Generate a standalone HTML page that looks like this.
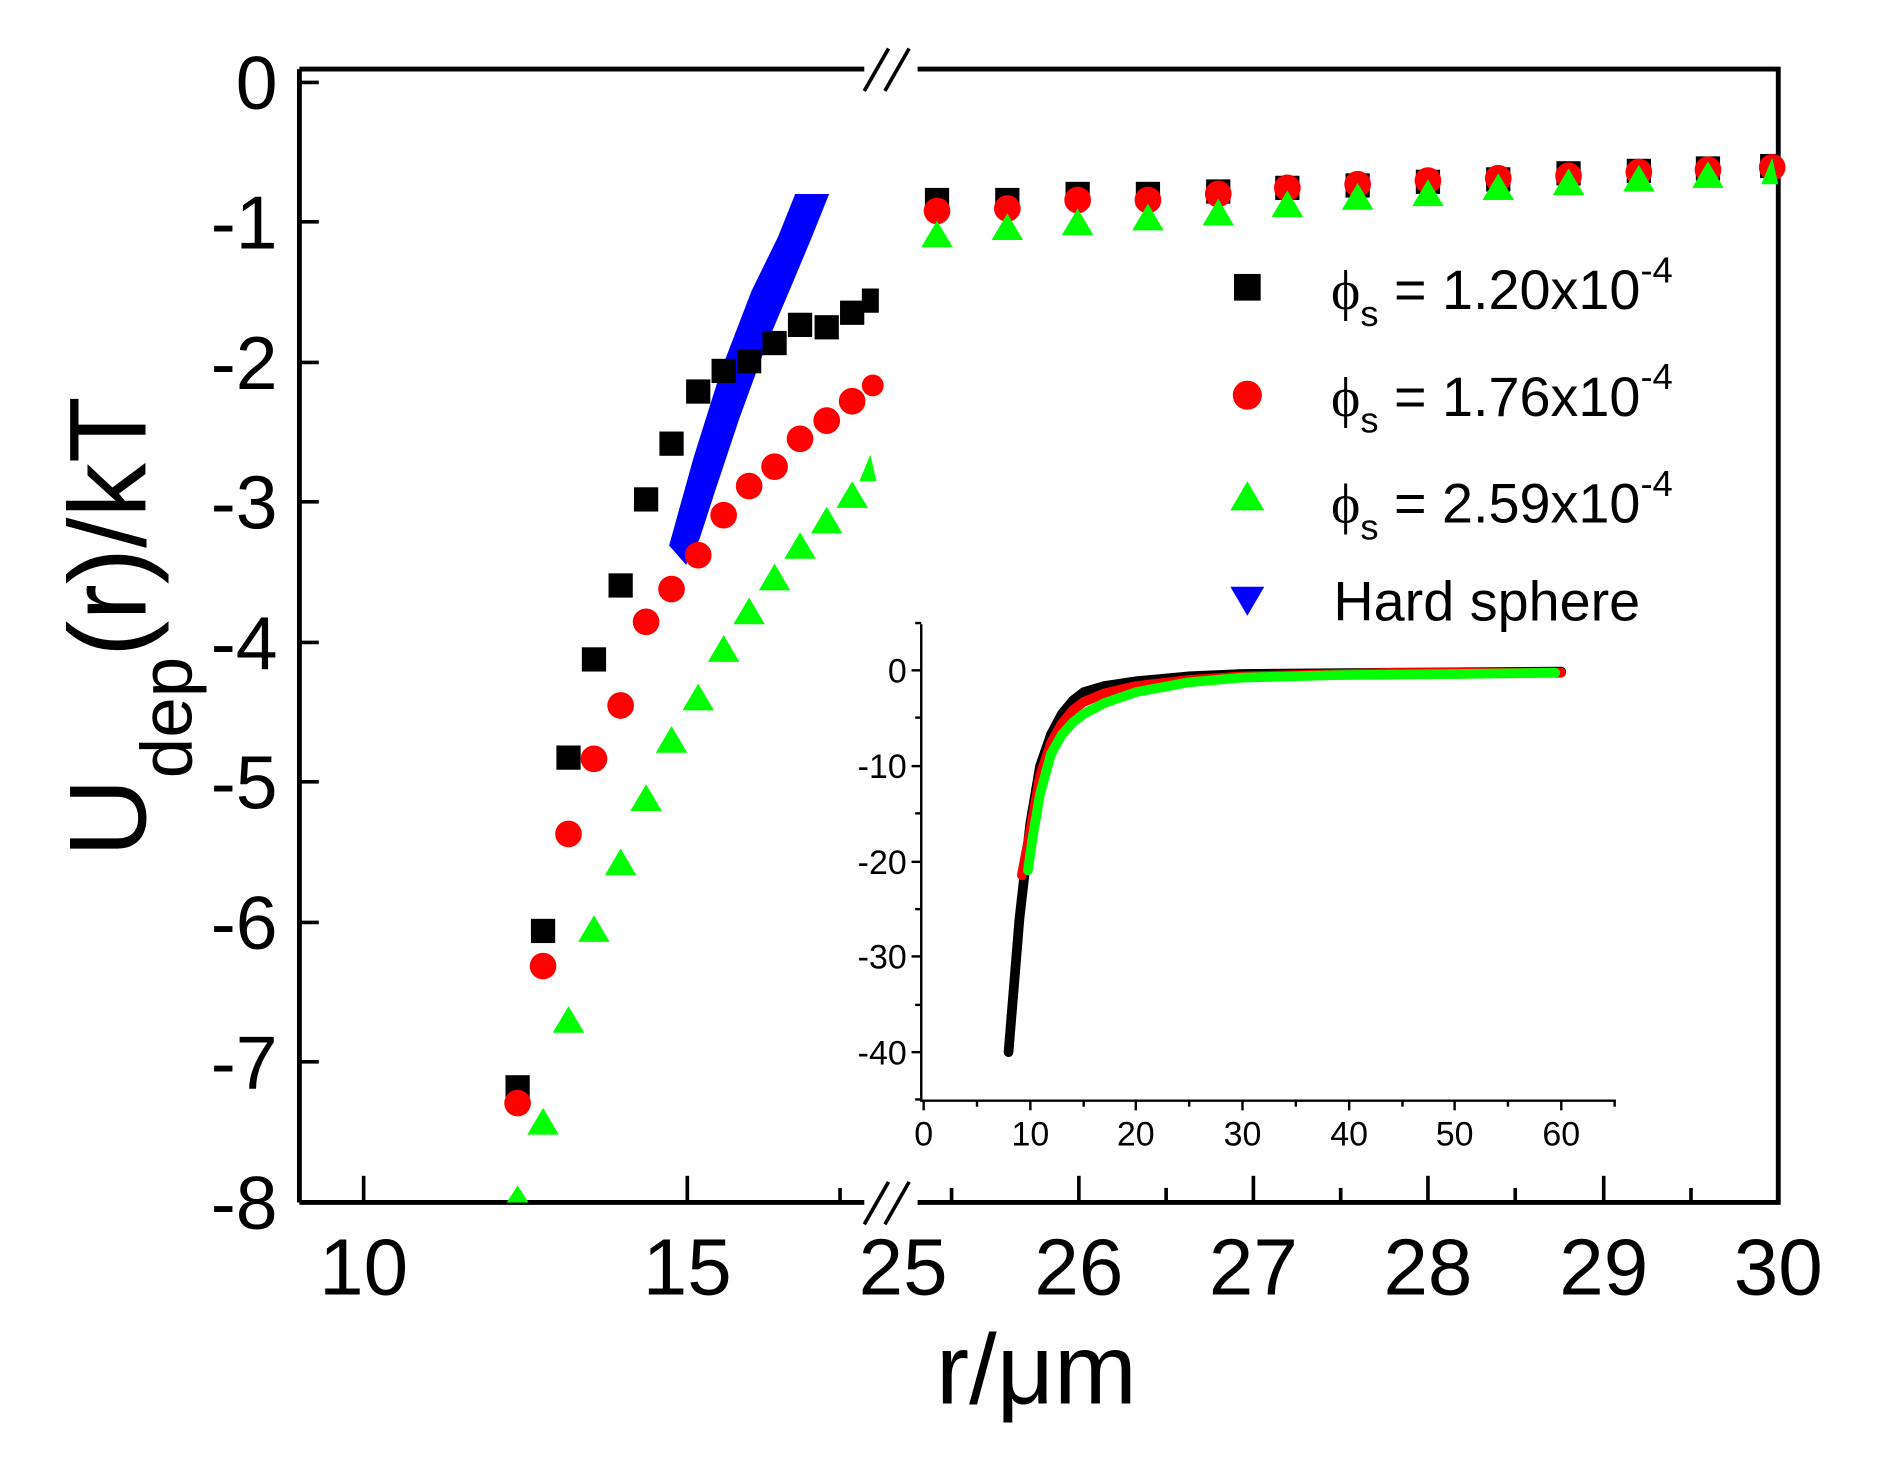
<!DOCTYPE html>
<html><head><meta charset="utf-8"><style>html,body{margin:0;padding:0;background:#fff}svg{display:block}</style></head>
<body>
<svg width="1891" height="1470" viewBox="0 0 1560 1212.7" preserveAspectRatio="none" font-family="'Liberation Sans', Arial, sans-serif">
<rect width="1560" height="1213" fill="#fff"/>
<g stroke="#000" stroke-width="4" fill="none">
<path d="M247,57 H713 M757,57 H1467 V992 H757 M713,992 H247 Z"/>
<path d="M247,57 V992"/>
</g>
<g stroke="#000" stroke-width="3">
<line x1="713" y1="75" x2="733" y2="40"/><line x1="730" y1="75" x2="750" y2="40"/>
<line x1="713" y1="1010" x2="733" y2="975"/><line x1="730" y1="1010" x2="750" y2="975"/>
</g>
<g stroke="#000" stroke-width="3">
<line x1="247" y1="68" x2="263" y2="68"/><line x1="247" y1="183" x2="263" y2="183"/><line x1="247" y1="299" x2="263" y2="299"/><line x1="247" y1="414" x2="263" y2="414"/><line x1="247" y1="530" x2="263" y2="530"/><line x1="247" y1="645" x2="263" y2="645"/><line x1="247" y1="761" x2="263" y2="761"/><line x1="247" y1="876" x2="263" y2="876"/>
<line x1="300" y1="992" x2="300" y2="970"/><line x1="567" y1="992" x2="567" y2="970"/><line x1="693" y1="992" x2="693" y2="980"/>
<line x1="785" y1="992" x2="785" y2="980"/><line x1="890" y1="992" x2="890" y2="970"/><line x1="962" y1="992" x2="962" y2="980"/><line x1="1034" y1="992" x2="1034" y2="970"/><line x1="1106" y1="992" x2="1106" y2="980"/><line x1="1178" y1="992" x2="1178" y2="970"/><line x1="1250" y1="992" x2="1250" y2="980"/><line x1="1323" y1="992" x2="1323" y2="970"/><line x1="1395" y1="992" x2="1395" y2="980"/>
</g>
<g font-size="62" text-anchor="end">
<text x="229" y="90">0</text><text x="229" y="205">-1</text><text x="229" y="321">-2</text><text x="229" y="436">-3</text><text x="229" y="552">-4</text><text x="229" y="667">-5</text><text x="229" y="783">-6</text><text x="229" y="898">-7</text><text x="229" y="1014">-8</text>
</g>
<g font-size="66" text-anchor="middle">
<text x="300" y="1068">10</text><text x="567" y="1068">15</text><text x="745" y="1068">25</text><text x="890" y="1068">26</text><text x="1034" y="1068">27</text><text x="1178" y="1068">28</text><text x="1323" y="1068">29</text><text x="1467" y="1068">30</text>
</g>
<text x="855" y="1158" font-size="82" text-anchor="middle">r/μm</text>
<text transform="translate(120,517) rotate(-90)" font-size="90" text-anchor="middle">U<tspan font-size="60" dy="38">dep</tspan><tspan dy="-38">(r)/kT</tspan></text>

<path d="M552,450 L572,378 L595,305 L620,240 L642,195 L656,160 L684,160 L670,195 L652,238 L632,285 L610,345 L590,405 L577,445 L566,466 Z" fill="#0000ff"/>

<g fill="#000">
<rect x="417" y="887" width="20" height="20"/><rect x="438" y="758" width="20" height="20"/><rect x="459" y="615" width="20" height="20"/><rect x="480" y="534" width="20" height="20"/><rect x="502" y="473" width="20" height="20"/><rect x="523" y="402" width="20" height="20"/><rect x="544" y="356" width="20" height="20"/><rect x="566" y="313" width="20" height="20"/><rect x="587" y="296" width="20" height="20"/><rect x="608" y="288" width="20" height="20"/><rect x="629" y="273" width="20" height="20"/><rect x="650" y="258" width="20" height="20"/><rect x="672" y="260" width="20" height="20"/><rect x="693" y="248" width="20" height="20"/><rect x="711" y="238" width="14" height="20"/>
<rect x="763" y="155" width="20" height="20"/><rect x="821" y="155" width="20" height="20"/><rect x="879" y="150" width="20" height="20"/><rect x="937" y="150" width="20" height="20"/><rect x="995" y="148" width="20" height="20"/><rect x="1052" y="145" width="20" height="20"/><rect x="1110" y="143" width="20" height="20"/><rect x="1168" y="140" width="20" height="20"/><rect x="1226" y="138" width="20" height="20"/><rect x="1284" y="133" width="20" height="20"/><rect x="1342" y="131" width="20" height="20"/><rect x="1399" y="129" width="20" height="20"/><rect x="1452" y="127" width="15" height="20"/>
</g>
<g fill="#ff0000">
<circle cx="427" cy="910" r="11"/><circle cx="448" cy="797" r="11"/><circle cx="469" cy="688" r="11"/><circle cx="490" cy="626" r="11"/><circle cx="512" cy="582" r="11"/><circle cx="533" cy="513" r="11"/><circle cx="554" cy="486" r="11"/><circle cx="576" cy="458" r="11"/><circle cx="597" cy="425" r="11"/><circle cx="618" cy="401" r="11"/><circle cx="639" cy="385" r="11"/><circle cx="660" cy="362" r="11"/><circle cx="682" cy="347" r="11"/><circle cx="703" cy="331" r="11"/><circle cx="720" cy="318" r="9"/>
<circle cx="773" cy="174" r="11"/><circle cx="831" cy="172" r="11"/><circle cx="889" cy="165" r="11"/><circle cx="947" cy="165" r="11"/><circle cx="1005" cy="160" r="11"/><circle cx="1062" cy="155" r="11"/><circle cx="1120" cy="152" r="11"/><circle cx="1178" cy="149" r="11"/><circle cx="1236" cy="147" r="11"/><circle cx="1294" cy="145" r="11"/><circle cx="1352" cy="142" r="11"/><circle cx="1409" cy="140" r="11"/><circle cx="1462" cy="138" r="11"/>
</g>
<g fill="#00ff00">
<path d="M427,978 l-9,14 h18z"/>
<path d="M448,914 l-13,22 h26z"/><path d="M469,830 l-13,22 h26z"/><path d="M490,755 l-13,22 h26z"/><path d="M512,700 l-13,22 h26z"/><path d="M533,647 l-13,22 h26z"/><path d="M554,599 l-13,22 h26z"/><path d="M576,564 l-13,22 h26z"/><path d="M597,524 l-13,22 h26z"/><path d="M618,493 l-13,22 h26z"/><path d="M639,465 l-13,22 h26z"/><path d="M660,439 l-13,22 h26z"/><path d="M682,418 l-13,22 h26z"/><path d="M703,397 l-13,22 h26z"/><path d="M718,375 l-9,22 h14z"/>
<path d="M773,182 l-13,22 h26z"/><path d="M831,176 l-13,22 h26z"/><path d="M889,172 l-13,22 h26z"/><path d="M947,168 l-13,22 h26z"/><path d="M1005,164 l-13,22 h26z"/><path d="M1062,157 l-13,22 h26z"/><path d="M1120,151 l-13,22 h26z"/><path d="M1178,148 l-13,22 h26z"/><path d="M1236,143 l-13,22 h26z"/><path d="M1294,139 l-13,22 h26z"/><path d="M1352,136 l-13,22 h26z"/><path d="M1409,133 l-13,22 h26z"/><path d="M1462,130 l-9,22 h14z"/>
</g>

<rect x="1018" y="226" width="22" height="22" fill="#000"/>
<circle cx="1029" cy="326" r="12" fill="#ff0000"/>
<path d="M1029,397 l-14,24 h28z" fill="#00ff00"/>
<path d="M1015,484 h28 l-14,24z" fill="#0000ff"/>
<g font-size="46">
<text x="1098" y="255"><tspan font-family="'Liberation Serif', serif">ϕ</tspan><tspan font-size="30" dy="14">s</tspan><tspan dy="-14"> = 1.20x10</tspan><tspan font-size="30" dy="-22">-4</tspan></text>
<text x="1098" y="343"><tspan font-family="'Liberation Serif', serif">ϕ</tspan><tspan font-size="30" dy="14">s</tspan><tspan dy="-14"> = 1.76x10</tspan><tspan font-size="30" dy="-22">-4</tspan></text>
<text x="1098" y="431"><tspan font-family="'Liberation Serif', serif">ϕ</tspan><tspan font-size="30" dy="14">s</tspan><tspan dy="-14"> = 2.59x10</tspan><tspan font-size="30" dy="-22">-4</tspan></text>
<text x="1100" y="512">Hard sphere</text>
</g>

<g stroke="#000" stroke-width="2" fill="none">
<path d="M760,515 V908 H1333"/>
<line x1="762" y1="908" x2="762" y2="916"/><line x1="850" y1="908" x2="850" y2="916"/><line x1="937" y1="908" x2="937" y2="916"/><line x1="1025" y1="908" x2="1025" y2="916"/><line x1="1113" y1="908" x2="1113" y2="916"/><line x1="1200" y1="908" x2="1200" y2="916"/><line x1="1288" y1="908" x2="1288" y2="916"/>
<line x1="806" y1="908" x2="806" y2="913"/><line x1="894" y1="908" x2="894" y2="913"/><line x1="981" y1="908" x2="981" y2="913"/><line x1="1069" y1="908" x2="1069" y2="913"/><line x1="1157" y1="908" x2="1157" y2="913"/><line x1="1244" y1="908" x2="1244" y2="913"/><line x1="1332" y1="908" x2="1332" y2="913"/>
<line x1="760" y1="553" x2="752" y2="553"/><line x1="760" y1="632" x2="752" y2="632"/><line x1="760" y1="711" x2="752" y2="711"/><line x1="760" y1="789" x2="752" y2="789"/><line x1="760" y1="868" x2="752" y2="868"/>
<line x1="760" y1="514" x2="755" y2="514"/><line x1="760" y1="592" x2="755" y2="592"/><line x1="760" y1="671" x2="755" y2="671"/><line x1="760" y1="750" x2="755" y2="750"/><line x1="760" y1="829" x2="755" y2="829"/><line x1="760" y1="907" x2="755" y2="907"/>
</g>
<g font-size="28" text-anchor="end">
<text x="748" y="563">0</text><text x="748" y="642">-10</text><text x="748" y="721">-20</text><text x="748" y="799">-30</text><text x="748" y="878">-40</text>
</g>
<g font-size="28" text-anchor="middle">
<text x="762" y="945">0</text><text x="850" y="945">10</text><text x="937" y="945">20</text><text x="1025" y="945">30</text><text x="1113" y="945">40</text><text x="1200" y="945">50</text><text x="1288" y="945">60</text>
</g>
<g fill="none" stroke-width="8" stroke-linecap="round" stroke-linejoin="round">
<path stroke="#000" d="M832,868 L841,758 L850,679 L858,632 L867,606 L876,589 L885,578 L894,571 L911,566 L937,562 L980,558 L1025,556 L1150,555 L1288,554"/>
<path stroke="#ff0000" d="M843,722 L850,685 L858,640 L867,613 L876,597 L885,586 L894,579 L911,572 L937,566 L980,561 L1025,558 L1150,555 L1288,555"/>
<path stroke="#00ff00" d="M848,718 L852,690 L858,655 L867,622 L876,606 L885,596 L894,589 L911,580 L937,571 L980,563 L1025,559 L1100,557 L1200,556 L1283,555"/>
</g>
</svg>
</body></html>
